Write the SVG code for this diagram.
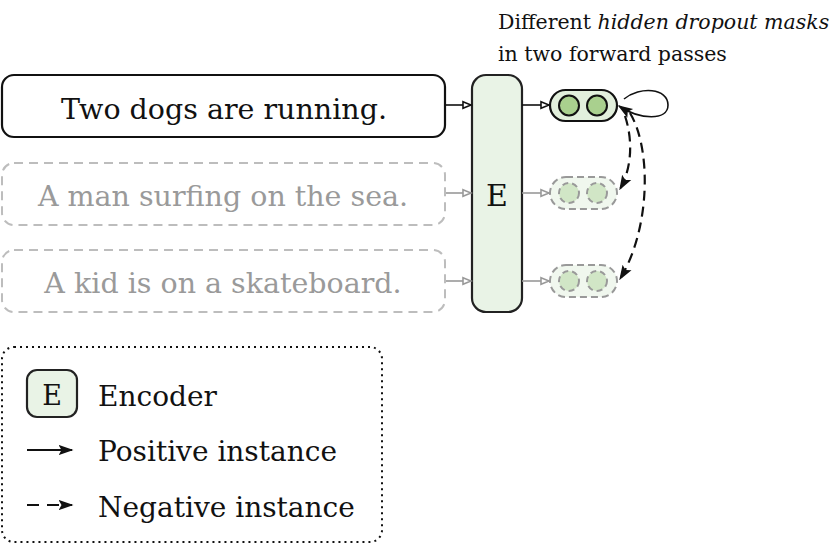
<svg xmlns="http://www.w3.org/2000/svg" width="838" height="545" viewBox="0 0 838 545">
<style>
.t{font-family:"DejaVu Serif","Liberation Serif",serif;fill:#111}
.g{fill:#9a9a9a}
.sent{font-size:28.5px;text-anchor:middle}
.box{fill:#fff;stroke:#111;stroke-width:2.2}
.dbox{fill:#fff;stroke:#bdbdbd;stroke-width:2;stroke-dasharray:9 6}
.enc{fill:#e9f3e6;stroke:#222;stroke-width:2.2}
.pill{fill:#e2efdc;stroke:#111;stroke-width:2.2}
.dot{fill:#a9d08e;stroke:#111;stroke-width:2}
.dpill{fill:#f0f7ee;stroke:#999;stroke-width:2;stroke-dasharray:7 4}
.ddot{fill:#d1e6c6;stroke:#999;stroke-width:2;stroke-dasharray:6 4}
.ak{stroke:#111;stroke-width:1.6;fill:none}
.ag{stroke:#999;stroke-width:1.6;fill:none}
.neg{stroke:#111;stroke-width:2.2;fill:none;stroke-dasharray:10 6}
</style>
<defs>
<marker id="ok" viewBox="0 0 10 10" refX="9" refY="5" markerWidth="11" markerHeight="10" orient="auto" markerUnits="userSpaceOnUse">
<path d="M1,1.8 L9,5 L1,8.2 Z" fill="#fff" stroke="#111" stroke-width="1.6"/>
</marker>
<marker id="og" viewBox="0 0 10 10" refX="9" refY="5" markerWidth="11" markerHeight="10" orient="auto" markerUnits="userSpaceOnUse">
<path d="M1,1.8 L9,5 L1,8.2 Z" fill="#fff" stroke="#999" stroke-width="1.6"/>
</marker>
<marker id="fk" viewBox="0 0 10 10" refX="9" refY="5" markerWidth="15" markerHeight="15" orient="auto" markerUnits="userSpaceOnUse">
<path d="M0,1.5 L10,5 L0,8.5 L2,5 Z" fill="#111"/>
</marker>
</defs>

<g id="title">
<text class="t" x="498" y="29" font-size="20.5">Different <tspan font-style="italic">hidden dropout masks</tspan></text>
<text class="t" x="498" y="61" font-size="20.5">in two forward passes</text>
</g>

<g id="s1">
<rect class="box" x="2" y="75" width="443" height="62" rx="12"/>
<text class="t sent" x="224" y="119">Two dogs are running.</text>
</g>
<g id="s2">
<rect class="dbox" x="2" y="163" width="443" height="62" rx="12"/>
<text class="t g sent" x="223" y="206">A man surfing on the sea.</text>
</g>
<g id="s3">
<rect class="dbox" x="2" y="250" width="443" height="62" rx="12"/>
<text class="t g sent" x="223" y="293">A kid is on a skateboard.</text>
</g>

<g id="encoder">
<rect class="enc" x="472" y="75" width="50" height="237" rx="14"/>
<text class="t" x="497" y="206" font-size="30" text-anchor="middle">E</text>
</g>

<g id="emb1">
<rect class="pill" x="550" y="90" width="67" height="31" rx="15.5"/>
<circle class="dot" cx="569" cy="105.5" r="10"/>
<circle class="dot" cx="597" cy="105.5" r="10"/>
</g>
<g id="emb2">
<rect class="dpill" x="550" y="177" width="67" height="32" rx="16"/>
<circle class="ddot" cx="569" cy="193" r="10"/>
<circle class="ddot" cx="597" cy="193" r="10"/>
</g>
<g id="emb3">
<rect class="dpill" x="550" y="265" width="67" height="32" rx="16"/>
<circle class="ddot" cx="569" cy="281" r="10"/>
<circle class="ddot" cx="597" cy="281" r="10"/>
</g>

<g id="connectors">
<line class="ak" x1="445" y1="105" x2="471" y2="105" marker-end="url(#ok)"/>
<line class="ag" x1="446" y1="193" x2="471" y2="193" marker-end="url(#og)"/>
<line class="ag" x1="446" y1="281" x2="471" y2="281" marker-end="url(#og)"/>
<line class="ak" x1="522" y1="105" x2="549" y2="105" marker-end="url(#ok)"/>
<line class="ag" x1="522" y1="193" x2="549" y2="193" marker-end="url(#og)"/>
<line class="ag" x1="522" y1="281" x2="549" y2="281" marker-end="url(#og)"/>
<path class="ak" stroke-width="2.2" d="M624,99 C640,86 668,88 668,105 C668,121 640,120 619,106" marker-end="url(#fk)"/>
<path class="neg" d="M625,116 C633,140 632,168 620,189" marker-end="url(#fk)"/>
<path class="neg" d="M630,113 C652,150 650,230 620,279" marker-end="url(#fk)"/>
</g>

<g id="legend">
<rect x="2" y="347" width="380" height="195" rx="12" fill="none" stroke="#111" stroke-width="2" stroke-dasharray="2 4"/>
<rect class="enc" x="27" y="370" width="50" height="47" rx="10"/>
<text class="t" x="52" y="405" font-size="27" text-anchor="middle">E</text>
<text class="t" x="98" y="406" font-size="28">Encoder</text>
<line stroke="#111" stroke-width="2" x1="27" y1="450" x2="72" y2="450" marker-end="url(#fk)"/>
<text class="t" x="98" y="461" font-size="28">Positive instance</text>
<line stroke="#111" stroke-width="2" stroke-dasharray="12 8" x1="27" y1="505" x2="72" y2="505" marker-end="url(#fk)"/>
<text class="t" x="98" y="517" font-size="28">Negative instance</text>
</g>
</svg>
